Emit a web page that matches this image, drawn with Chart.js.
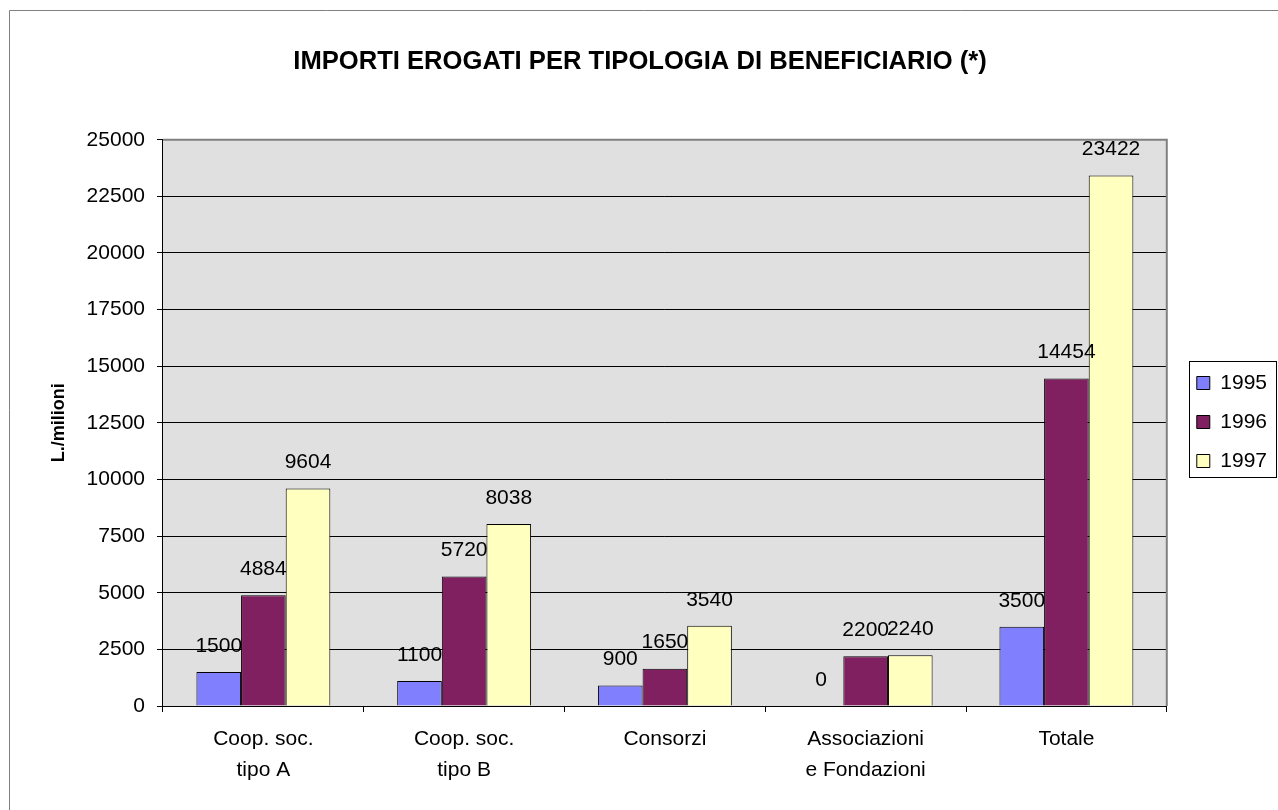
<!DOCTYPE html>
<html>
<head>
<meta charset="utf-8">
<script src="https://cdn.jsdelivr.net/npm/chart.js@4"></script>
<style>
  html, body { margin: 0; padding: 0; background: #fff; }
  #wrap { width: 1278px; height: 810px; }
</style>
</head>
<body>
<div id="wrap"><canvas id="myChart" width="1278" height="810"></canvas></div>
<script>
// dati
var categorie = [["Coop. soc.", "tipo A"], ["Coop. soc.", "tipo B"], "Consorzi", ["Associazioni", "e Fondazioni"], "Totale"];
var anni = ["1995", "1996", "1997"];
var val1995 = [1500, 1100, 900, 0, 3500];
var val1996 = [4884, 5720, 1650, 2200, 14454];
var val1997 = [9604, 8038, 3540, 2240, 23422];
var tickY = [0, 2500, 5000, 7500, 10000, 12500, 15000, 17500, 20000, 22500, 25000];

var FONT = "'Liberation Sans', Arial, sans-serif";

// sfondo, bordo esterno, area grafico, etichette, riquadro legenda
var sfondo = {
    id: 'sfondo',
    beforeDraw: function (chart) {
        var c = chart.ctx, a = chart.chartArea;
        c.save();
        c.fillStyle = '#fff';
        c.fillRect(0, 0, chart.width, chart.height);
        c.strokeStyle = '#808080';
        c.lineWidth = 1;
        c.beginPath();
        c.moveTo(9.5, chart.height);
        c.lineTo(9.5, 10.5);
        c.lineTo(chart.width, 10.5);
        c.stroke();
        c.fillStyle = '#e0e0e0';
        c.fillRect(a.left, a.top, a.right - a.left, a.bottom - a.top);
        c.restore();
    },
    afterDatasetsDraw: function (chart) {
        var c = chart.ctx, a = chart.chartArea;
        c.save();
        c.strokeStyle = '#808080';
        c.lineWidth = 2;
        c.beginPath();
        c.moveTo(a.left, a.top);
        c.lineTo(a.right, a.top);
        c.lineTo(a.right, a.bottom);
        c.stroke();
        c.font = '21px ' + FONT;
        c.fillStyle = '#000';
        c.textAlign = 'center';
        c.textBaseline = 'middle';
        chart.data.datasets.forEach(function (ds, i) {
            chart.getDatasetMeta(i).data.forEach(function (bar, j) {
                c.fillText(String(ds.data[j]), bar.x, bar.y - 26);
            });
        });
        c.restore();
    },
    afterDraw: function (chart) {
        var c = chart.ctx, l = chart.legend, hb = l.legendHitBoxes;
        if (!hb || !hb.length) return;
        var top = hb[0].top + hb[0].height / 2 - 22;
        var last = hb[hb.length - 1];
        var bottom = last.top + last.height / 2 + 16;
        c.save();
        c.strokeStyle = '#000';
        c.lineWidth = 1;
        c.strokeRect(Math.round(l.left + 10) + 0.5, Math.round(top) + 0.5, 87, Math.round(bottom - top));
        c.restore();
    }
};

var data = {
    labels: categorie,
    datasets: [
        { label: anni[0], data: val1995, backgroundColor: '#8080ff', borderColor: '#000', borderWidth: 1 },
        { label: anni[1], data: val1996, backgroundColor: '#802060', borderColor: '#000', borderWidth: 1 },
        { label: anni[2], data: val1997, backgroundColor: '#ffffc0', borderColor: '#000', borderWidth: 1 }
    ]
};

var myChart = new Chart(document.getElementById("myChart"), {
    type: 'bar',
    data: data,
    plugins: [sfondo],
    options: {
        responsive: false,
        animation: false,
        layout: { padding: { left: 3, right: 1, top: 47, bottom: 13 } },
        datasets: { bar: { categoryPercentage: 0.667, barPercentage: 1 } },
        plugins: {
            title: {
                display: true,
                text: 'IMPORTI EROGATI PER TIPOLOGIA DI BENEFICIARIO (*)',
                color: '#000',
                font: { family: FONT, size: 25.6, weight: 'bold' },
                padding: { top: 0, bottom: 62 }
            },
            legend: {
                position: 'right',
                labels: {
                    color: '#000',
                    font: { family: FONT, size: 21 },
                    boxWidth: 13,
                    boxHeight: 13,
                    padding: 18
                }
            },
            tooltip: { enabled: false }
        },
        scales: {
            x: {
                grid: { display: true, drawOnChartArea: false, tickLength: 6, color: '#000' },
                border: { color: '#000', width: 1 },
                ticks: { color: '#000', font: { family: FONT, size: 21, lineHeight: 1.5 }, padding: 11, maxRotation: 0 }
            },
            y: {
                min: 0,
                max: 25000,
                afterBuildTicks: function (ax) { ax.ticks = tickY.map(function (v) { return { value: v }; }); },
                grid: { color: '#000', tickLength: 6 },
                border: { color: '#000', width: 1 },
                ticks: { color: '#000', font: { family: FONT, size: 21 }, padding: 12, callback: function (v) { return String(v); } },
                title: { display: true, text: 'L./milioni', color: '#000', font: { family: FONT, size: 18, weight: 'bold' }, padding: { top: 45, bottom: 5 } }
            },
            // spazio tra area grafico e legenda
            spazio: {
                type: 'linear',
                position: 'right',
                display: true,
                grid: { display: false },
                border: { display: false },
                ticks: { display: false },
                afterFit: function (ax) { ax.width = 12; }
            }
        }
    }
});
</script>
</body>
</html>
